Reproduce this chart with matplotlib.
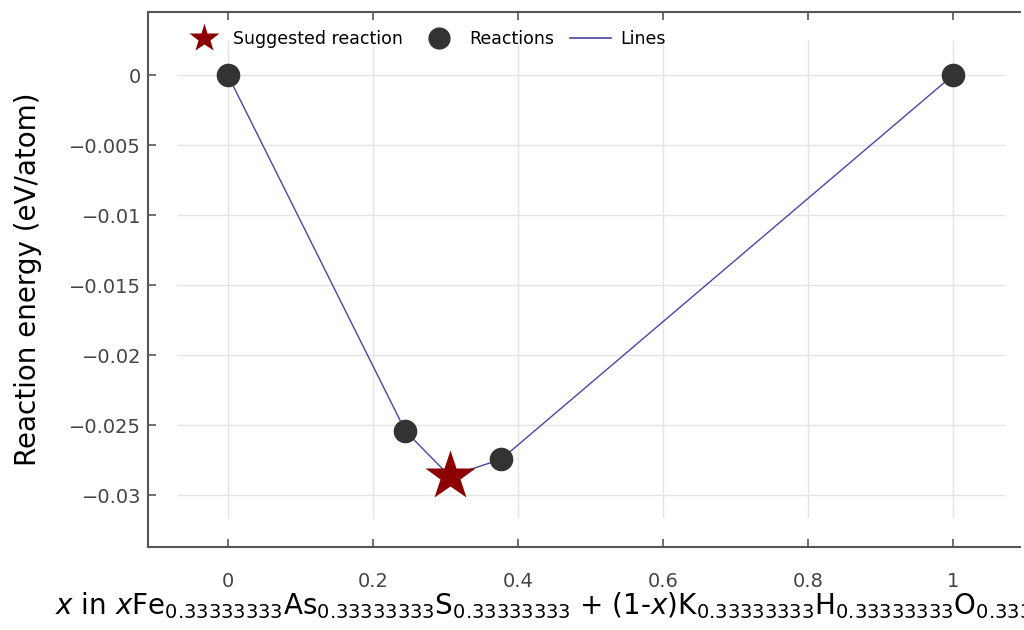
import numpy as np
import matplotlib
matplotlib.use("Agg")
import matplotlib.pyplot as plt
from matplotlib.lines import Line2D

plt.rcParams['font.family'] = ['DejaVu Sans']
plt.rcParams['mathtext.default'] = 'regular'

# reaction hull points and suggested reaction
x_rxn = [0.0, 0.245, 0.377, 1.0]
e_rxn = [0.0, -0.02543, -0.02743, 0.0]
x_line = [0.0, 0.245, 0.306, 0.377, 1.0]
e_line = [0.0, -0.02543, -0.02864, -0.02743, 0.0]
x_best = [0.306]
e_best = [-0.02864]

xticks = [0, 0.2, 0.4, 0.6, 0.8, 1]
xtick_labels = ['0', '0.2', '0.4', '0.6', '0.8', '1']
yticks = [0, -0.005, -0.01, -0.015, -0.02, -0.025, -0.03]
ytick_labels = ['0', '\u22120.005', '\u22120.01', '\u22120.015', '\u22120.02', '\u22120.025', '\u22120.03']

fig = plt.figure(figsize=(10.24, 6.3), dpi=100)
ax = fig.add_axes([0.1445, 0.1317, 0.8515, 0.8493])

ax.set_xlim(-0.110, 1.092)
ax.set_ylim(-0.0337, 0.0045)

# grid lines stop short of the frame
grid_c = '#e4e4e4'
ax.vlines(xticks, -0.0316, 0.0025, color=grid_c, lw=1, zorder=0)
ax.hlines(yticks, -0.070, 1.072, color=grid_c, lw=1, zorder=0)

ax.plot(x_line, e_line, color='#4646a8', lw=1.0, zorder=2)
ax.plot(x_rxn, e_rxn, 'o', color='#333333', ms=17, mec='none', zorder=3)
ax.plot(x_best, e_best, '*', color='#8b0000', ms=38, mec='none', zorder=4)

ax.set_xticks(xticks)
ax.set_xticklabels(xtick_labels)
ax.set_yticks(yticks)
ax.set_yticklabels(ytick_labels)
ax.tick_params(axis='both', direction='in', length=6, width=1.2, color='#555555',
               labelsize=14, labelcolor='#444444', pad=5)
ax.tick_params(axis='x', top=True, pad=18)

for s in ['left', 'top', 'bottom']:
    ax.spines[s].set_color('#555555')
    ax.spines[s].set_linewidth(1.5)
ax.spines['right'].set_visible(False)

ax.set_ylabel('Reaction energy (eV/atom)', fontsize=20, color='black')
ax.yaxis.set_label_coords(-0.122, 0.5)

sub = '0.33333333'
xlabel = ('$\\mathit{x}$ in $\\mathit{x}$Fe$_{%s}$As$_{%s}$S$_{%s}$ + (1-$\\mathit{x}$)K$_{%s}$H$_{%s}$O$_{%s}$'
          % (sub, sub, sub, sub, sub, sub))
fig.text(55 / 1024, 1 - 614 / 630, xlabel, fontsize=20, ha='left', va='baseline')

handles = [
    Line2D([], [], marker='*', color='#8b0000', ls='none', ms=22, mec='none', label='Suggested reaction'),
    Line2D([], [], marker='o', color='#333333', ls='none', ms=16, mec='none', label='Reactions'),
    Line2D([], [], color='#4646a8', lw=1.2, label='Lines'),
]
ax.legend(handles=handles, loc='upper left', bbox_to_anchor=(0.022, 0.995), ncol=3,
          frameon=False, fontsize=12.5, handlelength=2.4, columnspacing=0.9,
          handletextpad=0.5)

fig.savefig('out.png', dpi=100)
